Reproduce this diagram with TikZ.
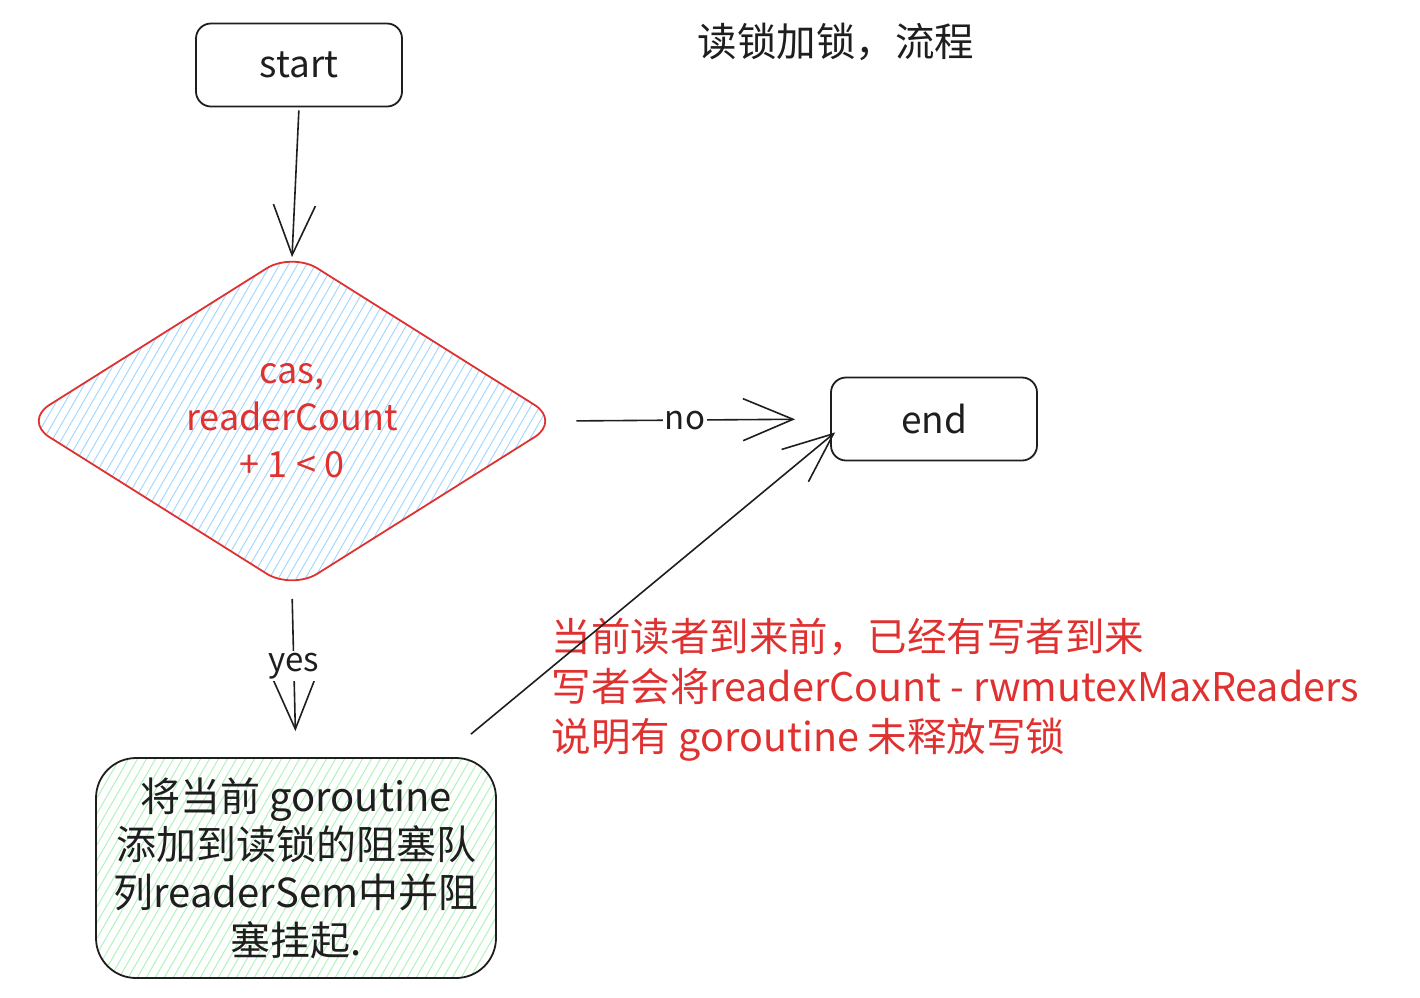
\documentclass[tikz,border=0pt]{standalone}
\usepackage{fontspec}
\setmainfont{Noto Sans CJK SC}
\usetikzlibrary{shapes.geometric,arrows.meta}
\definecolor{inkblack}{HTML}{1E1E1E}
\definecolor{inkred}{HTML}{E03131}
\definecolor{hatchblue}{HTML}{A5D8FF}
\definecolor{hatchgreen}{HTML}{B2F2BB}
\tikzset{
  box/.style={draw=inkblack, line width=1.8pt, rounded corners=15pt, minimum width=206pt, minimum height=83pt, font=\fontsize{37}{44}\selectfont, text=inkblack},
  arr/.style={draw=inkblack, line width=1.6pt, -{Straight Barb[length=50pt,width=42pt]}},
  lbl/.style={fill=white, inner sep=2pt, font=\fontsize{33}{40}\selectfont, text=inkblack},
  hatch/.style={path picture={
    \foreach \k in {0,...,90}
      \draw[#1, line width=1pt] ([xshift={\k*9pt-220pt}]path picture bounding box.south west) -- ++(60:420pt);
  }},
}
\begin{document}
\begin{tikzpicture}[x=1pt,y=-1pt]
\useasboundingbox (0,0) rectangle (1420,997);
% nodes
\node[text=inkblack, font=\fontsize{39.5}{48}\selectfont] (title) at (836,42) {读锁加锁，流程};
\node[box] (start) at (299,65) {start};
\node[box] (end) at (934,419) {end};
\node[diamond, aspect=1.6, draw=inkred, line width=1.8pt, rounded corners=30pt, minimum width=537pt, minimum height=338pt, inner sep=0pt, hatch=hatchblue, align=center, text=inkred, font=\fontsize{36}{47}\selectfont] (cas) at (292,421) {cas,\\readerCount\\+ 1 < 0};
\node[draw=inkblack, line width=1.8pt, rounded corners=40pt, minimum width=400pt, minimum height=220pt, hatch=hatchgreen, align=center, text=inkblack, font=\fontsize{40}{48}\selectfont] (park) at (296,868) {将当前 goroutine\\添加到读锁的阻塞队\\列readerSem中并阻\\塞挂起.};
\node[anchor=west, align=left, text=inkred, font=\fontsize{39.5}{50}\selectfont] (note) at (548,690) {当前读者到来前，已经有写者到来\\写者会将readerCount - rwmutexMaxReaders\\说明有 goroutine 未释放写锁};
% connectors
\draw[arr, shorten <=3pt] (start.south) -- ([yshift=-6pt]cas.north);
\draw[arr, shorten <=15pt, shorten >=35pt] (cas.east) -- node[lbl, pos=0.46] {no} (end.west);
\draw[arr, shorten <=8pt, shorten >=26pt] (cas.south) -- node[lbl, pos=0.45] {yes} (park.north);
\coordinate (tail) at ([shift={(-26,-23)}]park.north east);
\coordinate (tip) at ([shift={(5,-29)}]end.south west);
\draw[arr] (tail) -- (tip);
\end{tikzpicture}
\end{document}
